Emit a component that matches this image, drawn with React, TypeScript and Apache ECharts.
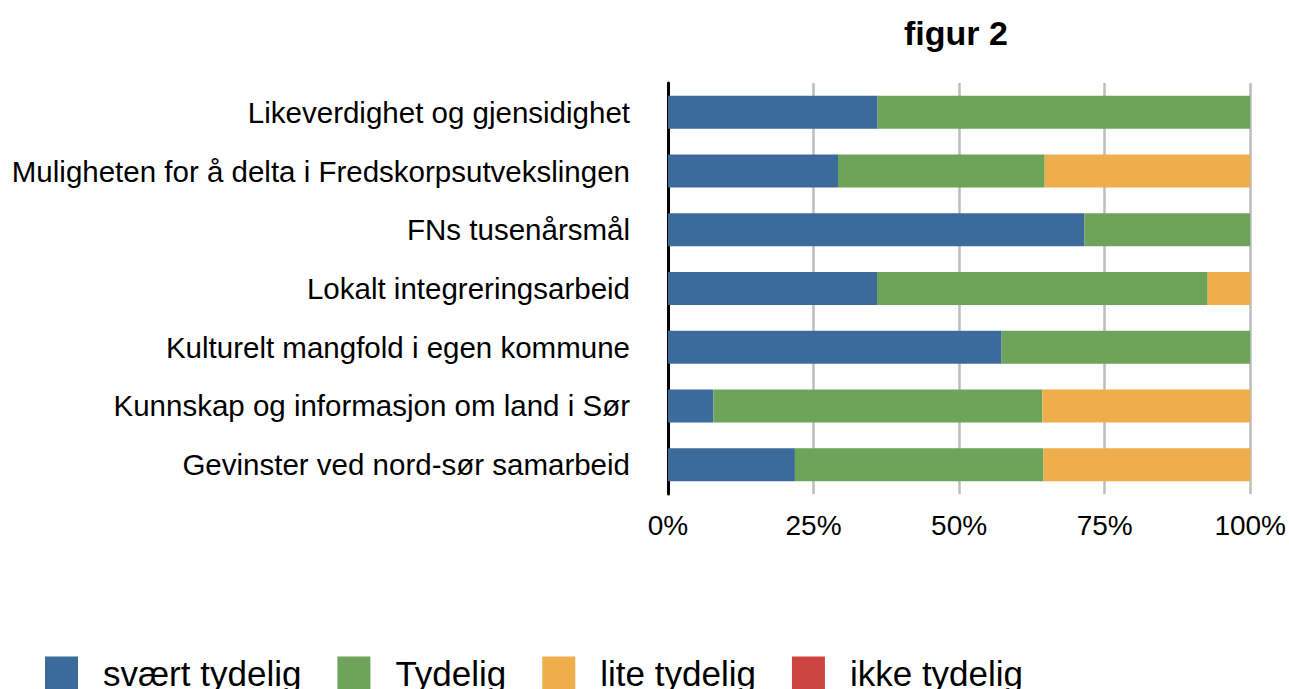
import React, { useEffect, useRef } from "react";
import * as echarts from "echarts";

const categories = [
  "Likeverdighet og gjensidighet",
  "Muligheten for å delta i Fredskorpsutvekslingen",
  "FNs tusenårsmål",
  "Lokalt integreringsarbeid",
  "Kulturelt mangfold i egen kommune",
  "Kunnskap og informasjon om land i Sør",
  "Gevinster ved nord-sør samarbeid",
];
const seriesNames = ["svært tydelig", "Tydelig", "lite tydelig", "ikke tydelig"];
const svaertTydelig = [36.0, 29.2, 71.5, 35.9, 57.3, 7.8, 21.8];
const tydelig = [64.0, 35.5, 28.5, 56.8, 42.7, 56.5, 42.7];
const liteTydelig = [0, 35.3, 0, 7.3, 0, 35.7, 35.5];
const ikkeTydelig = [0, 0, 0, 0, 0, 0, 0];
const xTicks = [0, 25, 50, 75, 100];
const colors = ["#3c6b9b", "#6da45a", "#edae4b", "#cd4340"];

export default function App() {
  const ref = useRef<HTMLDivElement>(null);
  useEffect(() => {
    document.body.style.margin = "0";
    const chart = echarts.init(ref.current!, null, { renderer: "svg" });
    const font = "'Liberation Sans', Arial, Helvetica, sans-serif";
    const values = [svaertTydelig, tydelig, liteTydelig, ikkeTydelig];
    chart.setOption({
      animation: false,
      color: colors,
      textStyle: { fontFamily: font },
      title: {
        text: "figur 2",
        left: 951,
        top: 11,
        textAlign: "center",
        textStyle: { fontSize: 34, fontWeight: "bold", color: "#000", fontFamily: font },
      },
      legend: {
        left: 40,
        top: 651,
        itemWidth: 33,
        itemHeight: 34,
        itemGap: 36,
        icon: "rect",
        data: seriesNames,
        textStyle: { fontSize: 35, color: "#000", fontFamily: font, padding: [0, 0, 0, 20] },
      },
      grid: { left: 668, right: 38, top: 83, bottom: 195, containLabel: false },
      xAxis: {
        type: "value",
        min: xTicks[0],
        max: xTicks[xTicks.length - 1],
        interval: 25,
        axisLine: { show: false },
        axisTick: { show: false },
        splitLine: { show: true, lineStyle: { color: "#bdbdbd", width: 2.5 } },
        axisLabel: {
          formatter: "{value}%",
          fontSize: 28,
          color: "#000",
          margin: 17,
          fontFamily: font,
        },
      },
      yAxis: {
        type: "category",
        inverse: true,
        data: categories,
        axisLine: { show: true, lineStyle: { color: "#000", width: 3 } },
        axisTick: { show: false },
        splitLine: { show: false },
        axisLabel: { fontSize: 29.5, color: "#000", margin: 38, fontFamily: font },
      },
      series: seriesNames.map((name, i) => ({
        name,
        type: "bar",
        stack: "total",
        barWidth: 33,
        data: values[i],
        itemStyle: { color: colors[i] },
      })),
    });
    return () => chart.dispose();
  }, []);
  return <div ref={ref} style={{ width: 1289, height: 689 }} />;
}
